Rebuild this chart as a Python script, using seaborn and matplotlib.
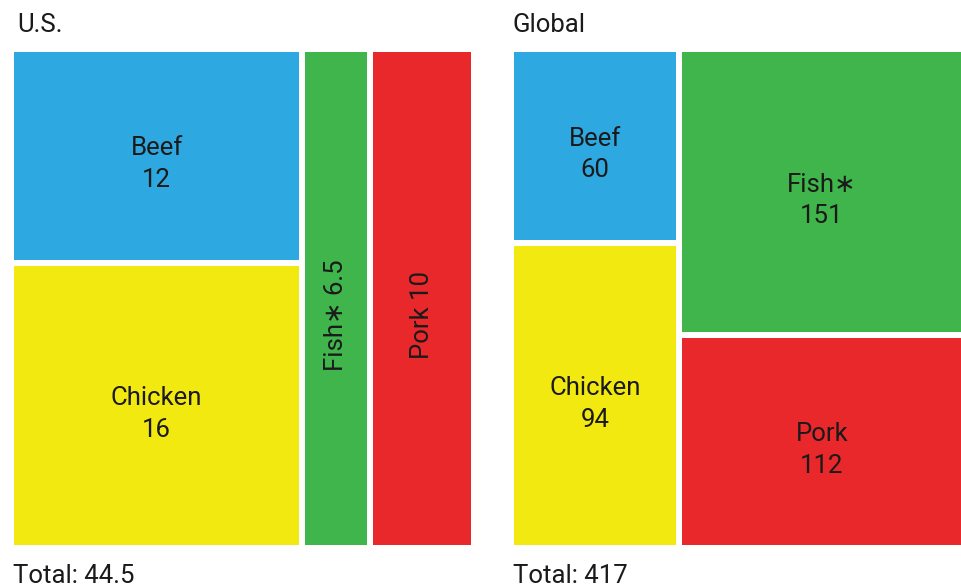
import matplotlib
matplotlib.use("Agg")
import matplotlib.pyplot as plt
import seaborn as sns

sns.set_theme(style="white")
plt.rcParams['font.family'] = ['Roboto', 'DejaVu Sans']

# Data
categories = ["Beef", "Chicken", "Fish∗", "Pork"]
us_values = [12, 16, 6.5, 10]
global_values = [60, 94, 151, 112]
colors = ["#2EA8E0", "#F2E911", "#3FB54B", "#E8282A"]
us_columns = [[0, 1], [2], [3]]
global_columns = [[0, 1], [2, 3]]
us_title = "U.S."
global_title = "Global"
us_total_label = "Total: 44.5"
global_total_label = "Total: 417"

W, H = 962, 587
fig = plt.figure(figsize=(W / 100, H / 100), dpi=100)

gap_pt = 6 * 72 / 100  # 6px white gaps
FS = 18.5


def px_axes(x0, y0, x1, y1):
    return fig.add_axes([x0 / W, 1 - y1 / H, (x1 - x0) / W, (y1 - y0) / H])


def fmt(v):
    return f"{v:g}"


def treemap(ax, values, columns, rotate_single=True):
    total = sum(values)
    x = 0.0
    for col in columns:
        colsum = sum(values[i] for i in col)
        top = 1.0
        for i in col:
            h = values[i] / colsum
            bottom = top - h
            ax.bar(x, h, width=colsum, bottom=bottom, align="edge",
                   color=colors[i], edgecolor="white", linewidth=gap_pt)
            cx = x + colsum / 2
            cy = bottom + h / 2
            if len(col) == 1 and rotate_single:
                ax.annotate(f"{categories[i]} {fmt(values[i])}", (cx, cy),
                            xytext=(0, -12), textcoords="offset points",
                            rotation=90, ha="center", va="center",
                            fontsize=FS, color="#1a1a1a")
            else:
                ax.annotate(f"{categories[i]}\n{fmt(values[i])}", (cx, cy),
                            xytext=(0, -6), textcoords="offset points",
                            ha="center", va="center", linespacing=1.4,
                            fontsize=FS, color="#1a1a1a")
            top = bottom
        x += colsum
    ax.set_xlim(0, total)
    ax.set_ylim(0, 1)
    ax.set_axis_off()


ax1 = px_axes(11, 49, 474, 548)
treemap(ax1, us_values, us_columns)
ax2 = px_axes(511, 49, 965, 548)
treemap(ax2, global_values, global_columns)

fig.text(17 / W, 1 - 25 / H, us_title, ha="left", va="center", fontsize=FS, color="#1a1a1a")
fig.text(513 / W, 1 - 25 / H, global_title, ha="left", va="center", fontsize=FS, color="#1a1a1a")
fig.text(13 / W, 1 - 576 / H, us_total_label, ha="left", va="center", fontsize=FS, color="#1a1a1a")
fig.text(513 / W, 1 - 576 / H, global_total_label, ha="left", va="center", fontsize=FS, color="#1a1a1a")

fig.savefig("out.png", dpi=100, facecolor="white")
